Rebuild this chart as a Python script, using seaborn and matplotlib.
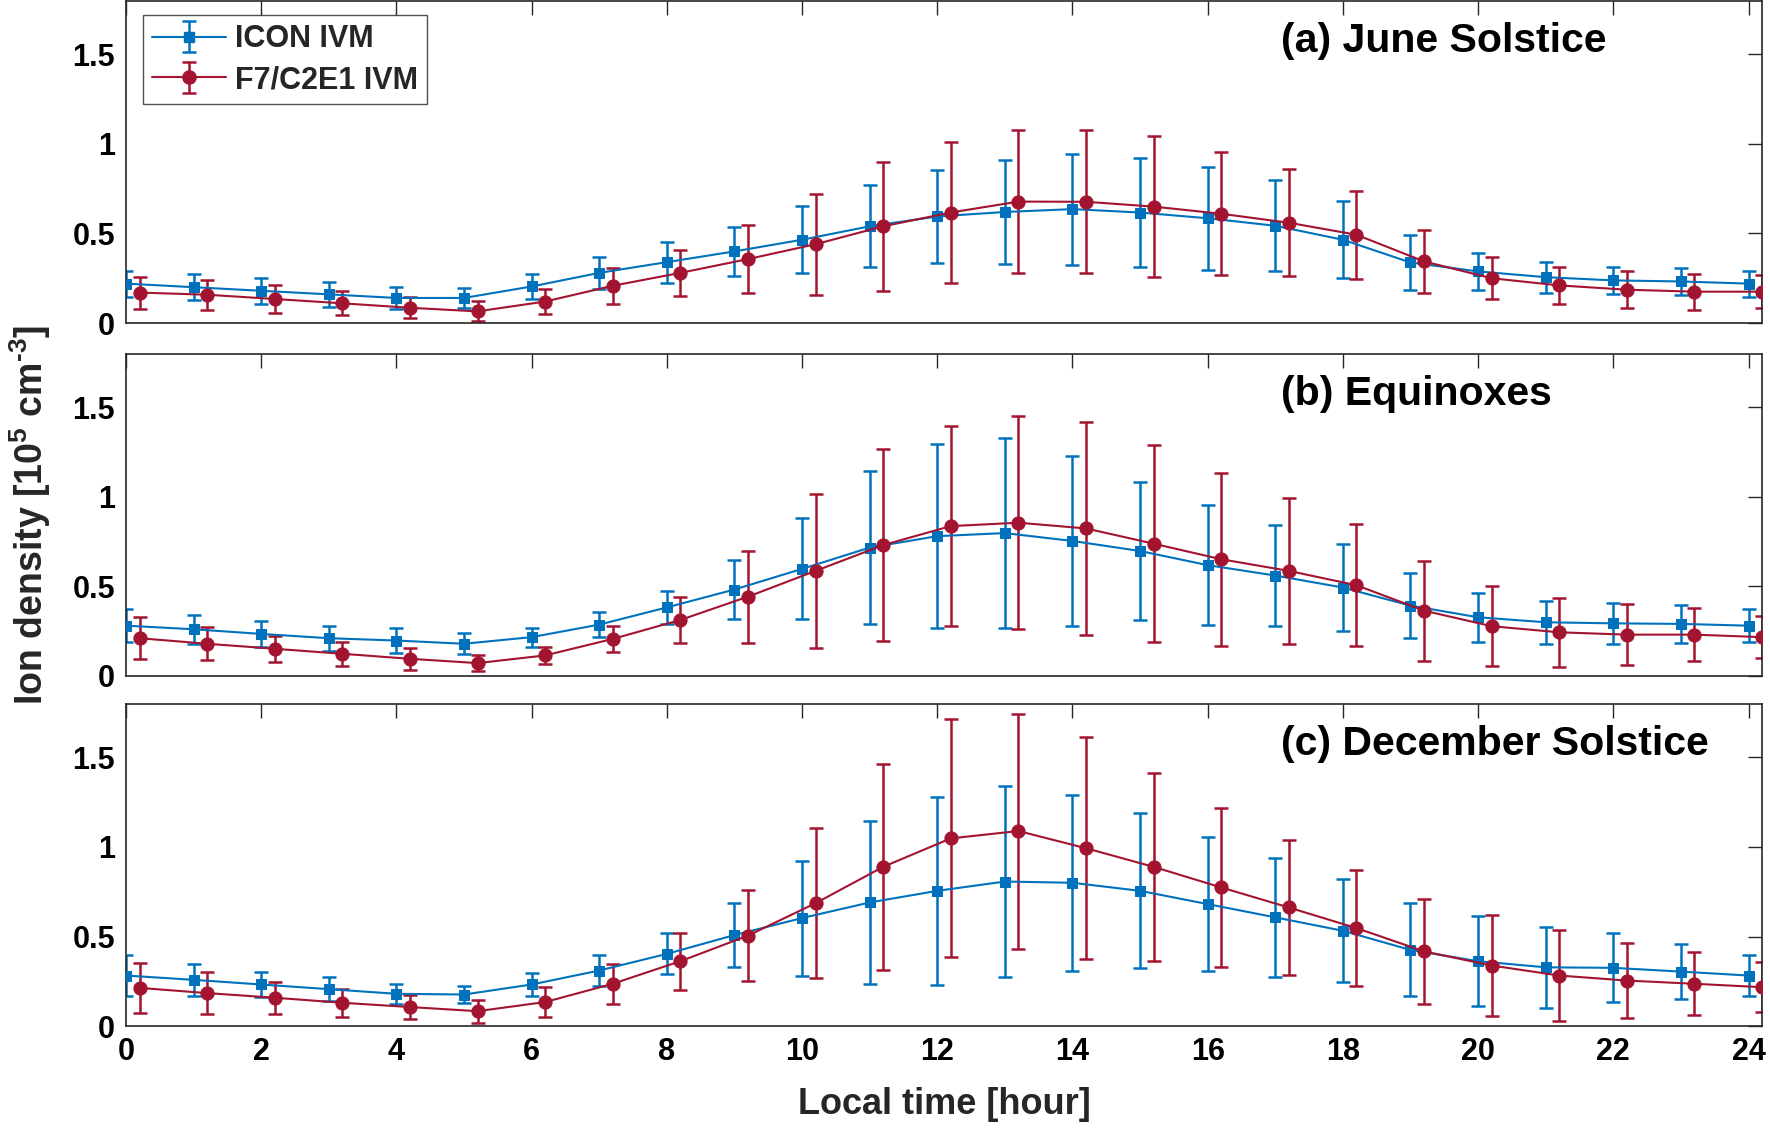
import numpy as np
import pandas as pd
import matplotlib
matplotlib.use("Agg")
import matplotlib.pyplot as plt
import seaborn as sns

# local time (hour); F7/C2E1 points are plotted 0.2 h later
hours_icon = list(range(25))
hours_f7 = [h + 0.2 for h in hours_icon]

seasons = ["(a) June Solstice", "(b) Equinoxes", "(c) December Solstice"]
instruments = ["ICON IVM", "F7/C2E1 IVM"]

# ion density [1e5 cm^-3], mean and error (half width)
icon_june = [0.22, 0.20, 0.18, 0.16, 0.14, 0.14, 0.204, 0.28, 0.34, 0.40, 0.465, 0.54, 0.595,
             0.62, 0.636, 0.617, 0.585, 0.543, 0.465, 0.338, 0.288, 0.256, 0.238, 0.232, 0.22]
icon_june_err = [0.073, 0.072, 0.073, 0.069, 0.061, 0.056, 0.072, 0.09, 0.115, 0.135, 0.187, 0.228, 0.26,
                 0.29, 0.31, 0.303, 0.289, 0.255, 0.214, 0.152, 0.102, 0.087, 0.077, 0.075, 0.073]
f7_june = [0.17, 0.158, 0.134, 0.11, 0.085, 0.065, 0.12, 0.208, 0.28, 0.357, 0.44, 0.54, 0.617,
           0.678, 0.677, 0.65, 0.61, 0.56, 0.493, 0.344, 0.25, 0.21, 0.186, 0.175, 0.175]
f7_june_err = [0.089, 0.083, 0.077, 0.068, 0.058, 0.056, 0.072, 0.10, 0.13, 0.19, 0.283, 0.36, 0.395,
               0.40, 0.40, 0.393, 0.343, 0.30, 0.245, 0.178, 0.118, 0.103, 0.104, 0.10, 0.092]

icon_equi = [0.281, 0.261, 0.235, 0.211, 0.198, 0.18, 0.217, 0.287, 0.383, 0.483, 0.598, 0.717, 0.781,
             0.798, 0.754, 0.698, 0.619, 0.561, 0.494, 0.393, 0.328, 0.30, 0.294, 0.291, 0.281]
icon_equi_err = [0.093, 0.082, 0.074, 0.069, 0.069, 0.058, 0.053, 0.068, 0.093, 0.162, 0.282, 0.426, 0.513,
                 0.53, 0.473, 0.384, 0.334, 0.284, 0.245, 0.183, 0.138, 0.119, 0.116, 0.107, 0.093]
f7_equi = [0.211, 0.18, 0.152, 0.124, 0.096, 0.072, 0.115, 0.207, 0.313, 0.443, 0.587, 0.731, 0.837,
           0.856, 0.824, 0.739, 0.652, 0.587, 0.507, 0.365, 0.278, 0.244, 0.231, 0.231, 0.217]
f7_equi_err = [0.116, 0.092, 0.074, 0.067, 0.06, 0.044, 0.049, 0.073, 0.129, 0.256, 0.43, 0.537, 0.559,
               0.594, 0.593, 0.551, 0.483, 0.406, 0.342, 0.279, 0.224, 0.193, 0.17, 0.147, 0.118]

icon_dec = [0.282, 0.258, 0.232, 0.206, 0.18, 0.176, 0.232, 0.31, 0.403, 0.508, 0.603, 0.69, 0.755,
            0.807, 0.80, 0.755, 0.681, 0.607, 0.532, 0.425, 0.362, 0.328, 0.325, 0.304, 0.282]
icon_dec_err = [0.117, 0.089, 0.07, 0.067, 0.056, 0.048, 0.063, 0.086, 0.115, 0.181, 0.321, 0.455, 0.524,
                0.535, 0.492, 0.432, 0.374, 0.332, 0.288, 0.26, 0.25, 0.227, 0.193, 0.153, 0.117]
f7_dec = [0.213, 0.184, 0.158, 0.13, 0.106, 0.083, 0.134, 0.236, 0.362, 0.505, 0.686, 0.889, 1.048,
          1.089, 0.993, 0.889, 0.774, 0.662, 0.547, 0.417, 0.338, 0.282, 0.254, 0.236, 0.217]
f7_dec_err = [0.141, 0.116, 0.089, 0.079, 0.066, 0.064, 0.084, 0.113, 0.16, 0.256, 0.419, 0.576, 0.665,
              0.656, 0.621, 0.523, 0.444, 0.377, 0.324, 0.293, 0.283, 0.254, 0.211, 0.175, 0.141]

yticks = [0, 0.5, 1, 1.5]
ytick_labels = ["0", "0.5", "1", "1.5"]
xticks = list(range(0, 25, 2))

# long table
rows = []
series = {
    seasons[0]: [(icon_june, icon_june_err), (f7_june, f7_june_err)],
    seasons[1]: [(icon_equi, icon_equi_err), (f7_equi, f7_equi_err)],
    seasons[2]: [(icon_dec, icon_dec_err), (f7_dec, f7_dec_err)],
}
for season, pairs in series.items():
    for inst, hrs, (vals, errs) in zip(instruments, [hours_icon, hours_f7], pairs):
        for h, v, e in zip(hrs, vals, errs):
            rows.append({"season": season, "instrument": inst, "hour": h, "density": v, "err": e})
df = pd.DataFrame(rows)

sns.set_theme(style="white")
plt.rcParams["font.family"] = ["Liberation Sans", "DejaVu Sans"]
plt.rcParams["font.weight"] = "bold"
plt.rcParams["axes.labelweight"] = "bold"
plt.rcParams["mathtext.fontset"] = "custom"
plt.rcParams["mathtext.rm"] = "Liberation Sans:bold"
plt.rcParams["mathtext.bf"] = "Liberation Sans:bold"
plt.rcParams["mathtext.default"] = "bf"

colors = {"ICON IVM": "#0072BD", "F7/C2E1 IVM": "#A2142F"}
markers = {"ICON IVM": "s", "F7/C2E1 IVM": "o"}
msizes = {"ICON IVM": 7, "F7/C2E1 IVM": 9.5}

fig = plt.figure(figsize=(17.7, 11.31), dpi=100)
panel_bottoms = [0.7144, 0.4023, 0.0928]
panel_h = 0.2850
axes = [fig.add_axes([0.0712, b, 0.9243, panel_h]) for b in panel_bottoms]

handles = []
for i, (ax, season) in enumerate(zip(axes, seasons)):
    sub = df[df["season"] == season]
    for inst in instruments:
        d = sub[sub["instrument"] == inst]
        ax.errorbar(d["hour"], d["density"], yerr=d["err"], fmt="none",
                    ecolor=colors[inst], elinewidth=1.8, capsize=5, capthick=1.8, zorder=2)
        sns.lineplot(data=d, x="hour", y="density", ax=ax, color=colors[inst],
                     marker=markers[inst], markersize=msizes[inst], markeredgecolor=colors[inst],
                     linewidth=1.5, legend=False, zorder=3)
    ax.set_xlim(0, 24.2)
    ax.set_ylim(0, 1.8)
    ax.set_yticks(yticks)
    ax.set_yticklabels(ytick_labels)
    ax.set_xticks(xticks)
    ax.set_xlabel("")
    ax.set_ylabel("")
    ax.tick_params(direction="in", length=10, width=1, top=True, right=True,
                   labelsize=22, color="#262626", labelcolor="black", pad=8)
    if i < 2:
        ax.tick_params(labelbottom=False)
    for s in ax.spines.values():
        s.set_color("#262626")
        s.set_linewidth(1.2)
    ax.text(0.706, 0.875, season, transform=ax.transAxes, ha="left", va="center",
            fontsize=29.5, fontweight="bold", color="black")

# legend with errorbar handles
for inst in instruments:
    h = axes[0].errorbar([np.nan], [np.nan], yerr=[np.nan], fmt="-" + markers[inst],
                         color=colors[inst], markersize=msizes[inst], linewidth=1.5,
                         elinewidth=1.8, capsize=5, capthick=1.8, label=inst)
    handles.append(h)
leg = axes[0].legend(handles, instruments, loc="upper left", bbox_to_anchor=(0.0105, 0.955),
                     fontsize=22, frameon=True, fancybox=False, handlelength=2.4,
                     handletextpad=0.3, borderpad=0.3, labelspacing=0.35, borderaxespad=0)
leg.get_frame().set_edgecolor("#262626")
leg.get_frame().set_linewidth(1.0)

axes[2].set_xlabel("Local time [hour]", fontsize=26, fontweight="bold", labelpad=14)
fig.text(0.017, 0.545, "Ion density [10$^{5}$ cm$^{\u2010 3}$]", rotation=90, ha="center", va="center",
         fontsize=27, fontweight="bold")

fig.savefig("out.png", dpi=100, facecolor="white")
